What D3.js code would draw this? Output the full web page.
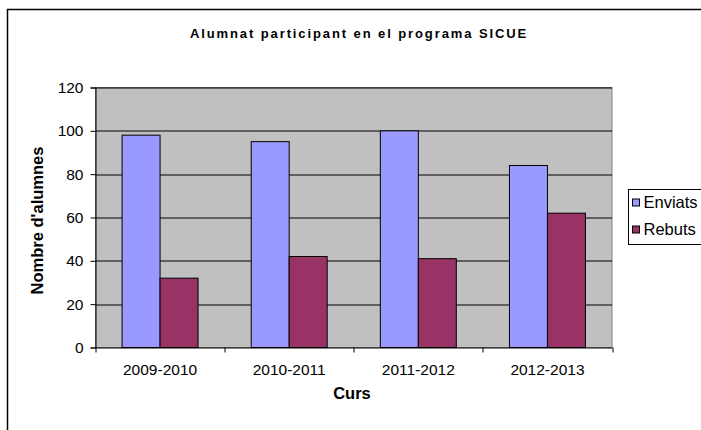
<!DOCTYPE html>
<html>
<head>
<meta charset="utf-8">
<script src="https://cdn.jsdelivr.net/npm/d3@7"></script>
<style>
  body { margin: 0; background: #fff; }
  svg { display: block; font-family: "Liberation Sans", Arial, sans-serif; }
</style>
</head>
<body>
<div id="chart"></div>
<script>
// data
const cursos = ["2009-2010", "2010-2011", "2011-2012", "2012-2013"];
const enviats = [98, 95, 100, 84];
const rebuts = [32, 42, 41, 62];
const seriesNames = ["Enviats", "Rebuts"];
const yTicks = [0, 20, 40, 60, 80, 100, 120];

const width = 701, height = 430;
const margin = {top: 87.5, left: 95.5, right: 89, bottom: 82.5};
const innerW = width - margin.left - margin.right;
const innerH = height - margin.top - margin.bottom;

const colors = d3.scaleOrdinal().domain(seriesNames).range(["#9999FF", "#993366"]);

const svg = d3.select("#chart").append("svg")
  .attr("width", width)
  .attr("height", height);

// chart area border (runs off the right and bottom edge like in the picture)
svg.append("rect")
  .attr("x", 7.5).attr("y", 9.5)
  .attr("width", width + 10).attr("height", height + 10)
  .attr("fill", "#fff")
  .attr("stroke", "#000")
  .attr("stroke-width", 1.5);

svg.append("text")
  .attr("x", 359).attr("y", 38)
  .attr("text-anchor", "middle")
  .style("font-size", "13px")
  .style("font-weight", "bold")
  .style("letter-spacing", "1.9px")
  .text("Alumnat participant en el programa SICUE");

const g = svg.append("g").attr("transform", `translate(${margin.left},${margin.top})`);

const x = d3.scaleBand().domain(cursos).range([0, innerW]);
const y = d3.scaleLinear().domain([0, 120]).range([innerH, 0]);
const xs = d3.scaleBand().domain(seriesNames).range([0, x.bandwidth()]).paddingOuter(0.7);

g.append("rect")
  .attr("width", innerW).attr("height", innerH)
  .attr("fill", "#C0C0C0")
  .attr("stroke", "#808080");

// gridlines
g.append("g")
  .selectAll("line")
  .data(yTicks.filter(d => d > 0))
  .join("line")
    .attr("x1", 0).attr("x2", innerW)
    .attr("y1", d => Math.round(y(d)) + 0.5)
    .attr("y2", d => Math.round(y(d)) + 0.5)
    .attr("stroke", "#000");

const data = cursos.map((c, i) => ({curs: c, Enviats: enviats[i], Rebuts: rebuts[i]}));

g.append("g")
  .selectAll("g")
  .data(data)
  .join("g")
    .attr("transform", d => `translate(${x(d.curs)},0)`)
  .selectAll("rect")
  .data(d => seriesNames.map(k => ({key: k, value: d[k]})))
  .join("rect")
    .attr("x", d => xs(d.key))
    .attr("y", d => y(d.value))
    .attr("width", xs.bandwidth())
    .attr("height", d => innerH - y(d.value))
    .attr("fill", d => colors(d.key))
    .attr("stroke", "#000")
    .attr("stroke-width", 1);

// axes
const yAxis = g.append("g")
  .call(d3.axisLeft(y).tickValues(yTicks).tickSize(5).tickPadding(7));
yAxis.select(".domain").attr("stroke", "#000");
yAxis.selectAll("text").style("font-size", "15.5px").attr("fill", "#000")
  .style("font-family", "Liberation Sans, Arial, sans-serif");

const xAxis = g.append("g")
  .attr("transform", `translate(0,${innerH})`)
  .call(d3.axisBottom(x).tickSize(0).tickPadding(16));
xAxis.select(".domain").attr("stroke", "#000");
xAxis.selectAll("text").style("font-size", "15.5px").attr("fill", "#000")
  .style("font-family", "Liberation Sans, Arial, sans-serif");

// category separator ticks
g.append("g")
  .selectAll("line")
  .data(d3.range(cursos.length + 1))
  .join("line")
    .attr("x1", i => Math.round(i * x.step()) + 0.5)
    .attr("x2", i => Math.round(i * x.step()) + 0.5)
    .attr("y1", innerH).attr("y2", innerH + 5)
    .attr("stroke", "#000");

// axis titles
svg.append("text")
  .attr("x", 352).attr("y", 399)
  .attr("text-anchor", "middle")
  .style("font-size", "16.5px")
  .style("font-weight", "bold")
  .text("Curs");

svg.append("text")
  .attr("transform", `translate(43,${margin.top + innerH / 2 + 3}) rotate(-90)`)
  .attr("text-anchor", "middle")
  .style("font-size", "16.5px")
  .style("font-weight", "bold")
  .text("Nombre d'alumnes");

// legend
const legend = svg.append("g").attr("transform", "translate(628.5,189.5)");
legend.append("rect")
  .attr("width", 90).attr("height", 55)
  .attr("fill", "#fff")
  .attr("stroke", "#000");

const item = legend.selectAll("g.item")
  .data(seriesNames)
  .join("g")
    .attr("class", "item")
    .attr("transform", (d, i) => `translate(4,${13 + i * 27})`);
item.append("rect")
  .attr("y", -3.5)
  .attr("width", 7).attr("height", 7)
  .attr("fill", d => colors(d))
  .attr("stroke", "#000");
item.append("text")
  .attr("x", 11).attr("y", 1)
  .attr("dominant-baseline", "middle")
  .style("font-size", "16.5px")
  .text(d => d);
</script>
</body>
</html>
